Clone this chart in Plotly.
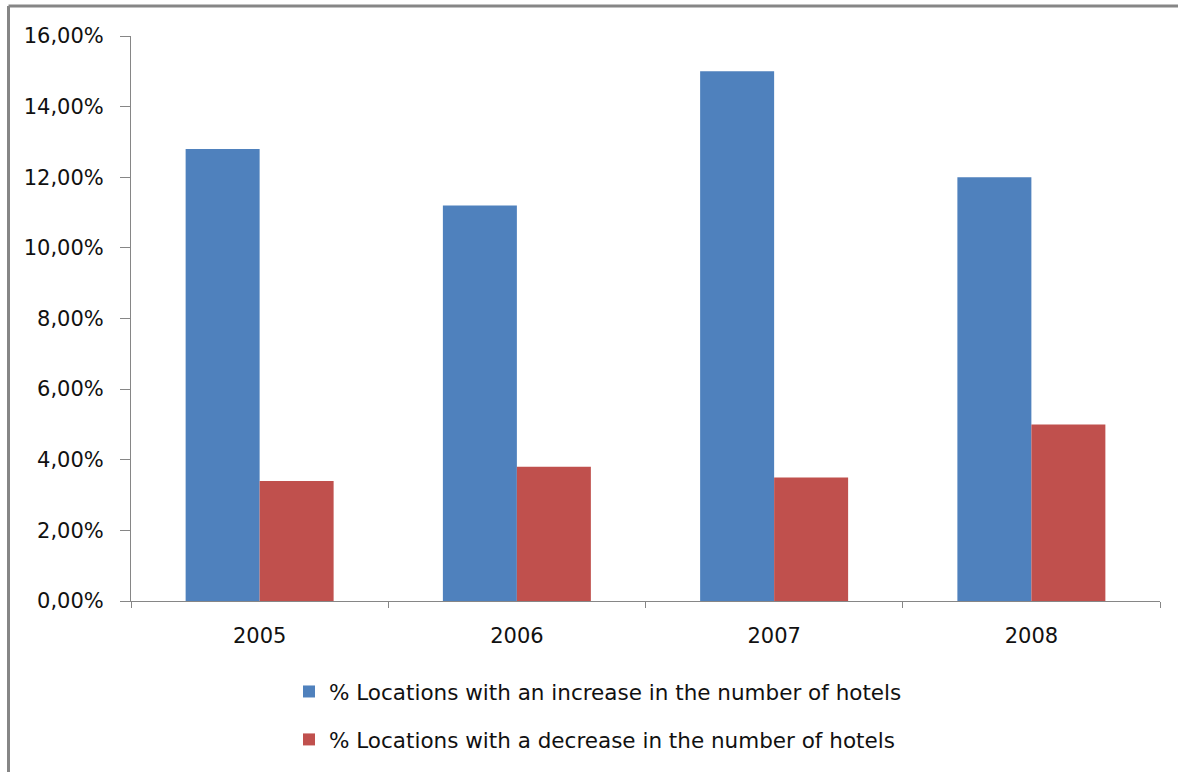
import plotly.graph_objects as go

years = ["2005", "2006", "2007", "2008"]
increase_pct = [12.8, 11.2, 15.0, 12.0]
decrease_pct = [3.4, 3.8, 3.5, 5.0]
series_names = [
    "% Locations with an increase in the number of hotels",
    "% Locations with a decrease in the number of hotels",
]
y_ticks = [0, 2, 4, 6, 8, 10, 12, 14, 16]

W, H = 1178, 772
L, R, T, B = 131, 18, 36, 171
pw, ph = W - L - R, H - T - B

def px_x(px):
    return (px - L) / pw

def px_y(py):
    return (H - B - py) / ph

FONT = "DejaVu Sans"
AX = "#868686"
TXT = "#111111"

fig = go.Figure()
fig.add_trace(go.Bar(x=years, y=[v / 100 for v in increase_pct], name=series_names[0],
                     marker=dict(color="#4F81BD", line=dict(width=0)), legendgroup="a"))
fig.add_trace(go.Bar(x=years, y=[v / 100 for v in decrease_pct], name=series_names[1],
                     marker=dict(color="#C0504D", line=dict(width=0)), legendgroup="b"))

fig.update_layout(
    width=W, height=H,
    margin=dict(l=L, r=R, t=T, b=B, autoexpand=False),
    paper_bgcolor="white", plot_bgcolor="white",
    separators=", ",
    barmode="group", bargap=0.4247, bargroupgap=0,
    font=dict(family=FONT, size=21, color=TXT),
    showlegend=True,
    legend=dict(x=px_x(289), y=px_y(671), xanchor="left", yanchor="top",
                orientation="v", traceorder="grouped", tracegroupgap=17,
                font=dict(family=FONT, size=21.5, color=TXT),
                bgcolor="rgba(0,0,0,0)", borderwidth=0),
    xaxis=dict(showline=True, linecolor=AX, linewidth=1, ticks="outside",
               tickson="boundaries", ticklen=6, tickcolor=AX, tickwidth=1,
               showgrid=False, zeroline=False, ticklabelstandoff=16,
               tickfont=dict(family=FONT, size=21, color=TXT), fixedrange=True),
    yaxis=dict(range=[0, 0.16], tickvals=[v / 100 for v in y_ticks], tickformat=".2%",
               showline=True, linecolor=AX, linewidth=1, ticks="outside",
               ticklen=10, tickcolor=AX, tickwidth=1, showgrid=False, zeroline=False,
               ticklabelstandoff=12,
               tickfont=dict(family=FONT, size=21, color=TXT), fixedrange=True),
    shapes=[
        dict(type="line", xref="paper", yref="paper", x0=px_x(8.5), x1=px_x(W + 5),
             y0=px_y(6), y1=px_y(6), line=dict(color=AX, width=3)),
        dict(type="line", xref="paper", yref="paper", x0=px_x(8.5), x1=px_x(8.5),
             y0=px_y(6), y1=px_y(H + 5), line=dict(color=AX, width=3)),
    ],
)

fig.write_html("out.html")
